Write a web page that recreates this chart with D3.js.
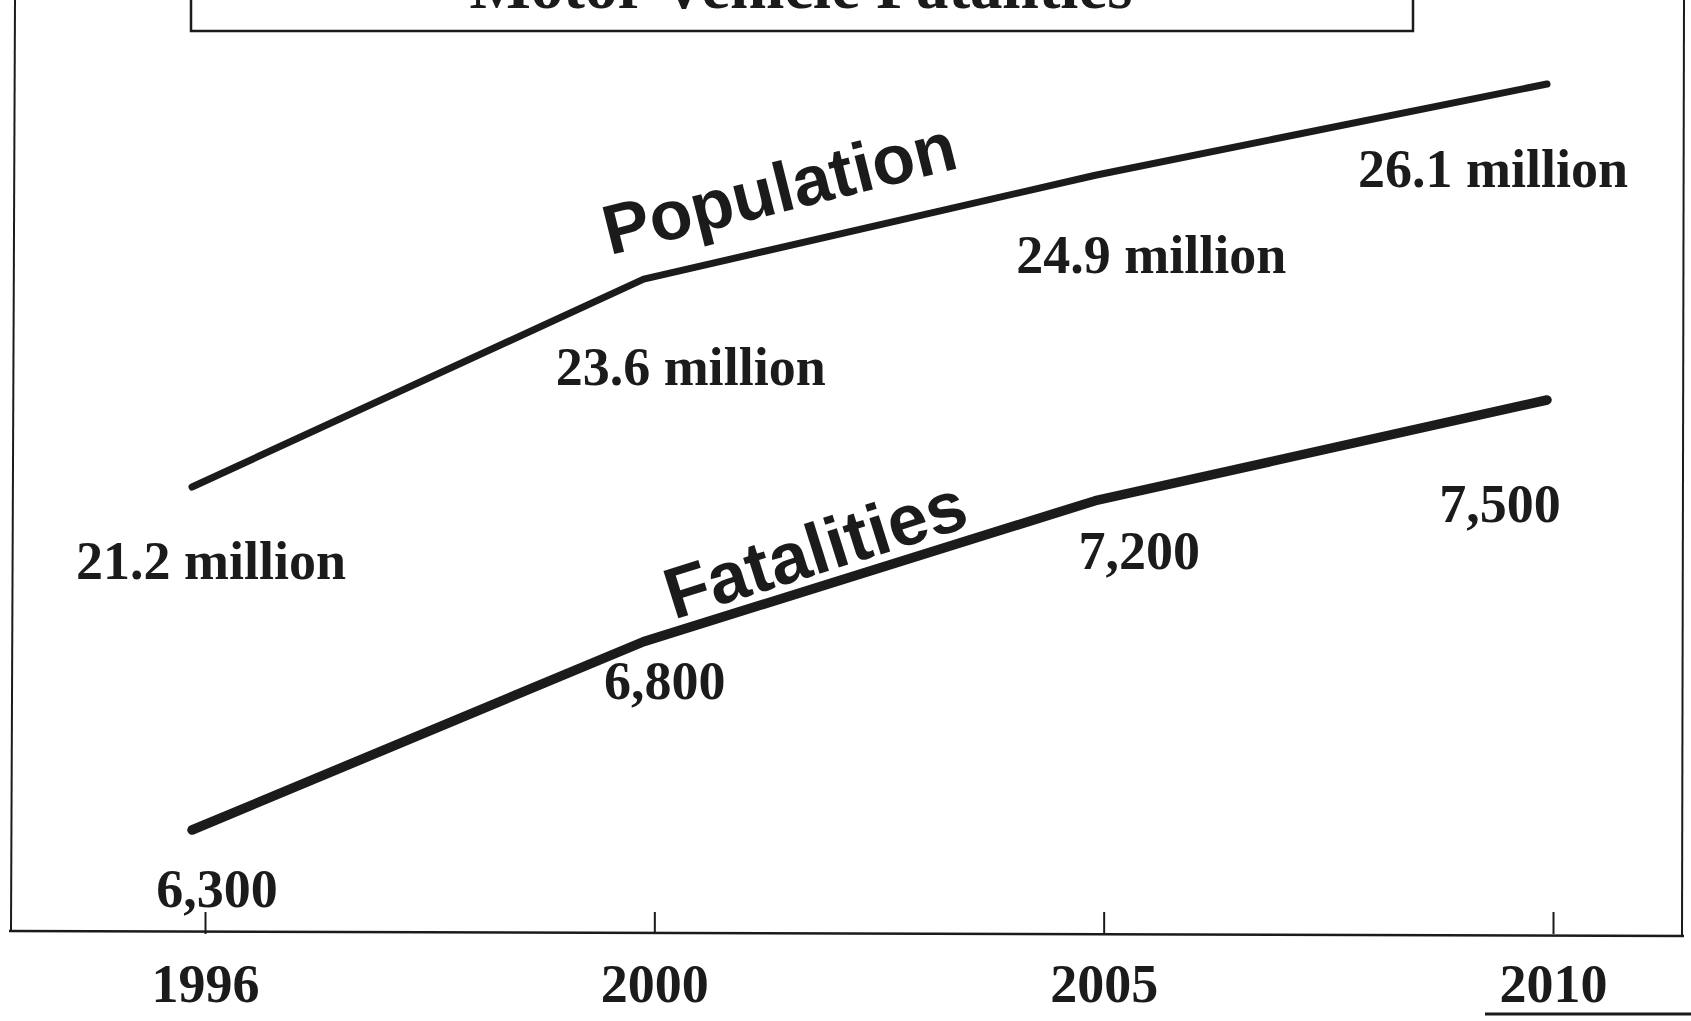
<!DOCTYPE html>
<html>
<head>
<meta charset="utf-8">
<script src="https://cdn.jsdelivr.net/npm/d3@7"></script>
<style>
  body { margin: 0; background: #fff; }
  svg { display: block; }
</style>
</head>
<body>
<div class="vis-area"></div>
<script>
var width = 1691;
var height = 1021;

// data
var years = [1996, 2000, 2005, 2010];
var population = [21.2, 23.6, 24.9, 26.1];   // millions
var fatalities = [6300, 6800, 7200, 7500];

// label nudges relative to each point (layout only)
var popLabelDx = [19, 47, 56, -54];
var popLabelDy = [92, 106, 98, 103];
var fatLabelDx = [25, 21, 44, -47];
var fatLabelDy = [77, 57, 68, 122];

var ink = '#1b1b1b';
var serif = '"Liberation Serif", "Times New Roman", serif';
var sans = '"Liberation Sans", Arial, sans-serif';

var svg = d3.select('.vis-area')
  .append('svg')
  .attr('width', width)
  .attr('height', height);

svg.append('rect').attr('width', width).attr('height', height).attr('fill', '#fff');

// scales
var xAxisScale = d3.scalePoint().domain(years).range([205, 1553]);
var xLine = d3.scalePoint().domain(years).range([192, 1547]);
var yPop = d3.scaleLog().domain([21.2, 26.1]).range([487, 84]);
var yFat = d3.scaleLog().domain([6300, 7500]).range([830, 400]);

// outer frame
svg.append('line').attr('x1', 15).attr('y1', 0).attr('x2', 11).attr('y2', 931)
  .attr('stroke', ink).attr('stroke-width', 2);
svg.append('line').attr('x1', 1684).attr('y1', 0).attr('x2', 1682).attr('y2', 936)
  .attr('stroke', ink).attr('stroke-width', 2);
svg.append('line').attr('x1', 9).attr('y1', 931).attr('x2', 1684).attr('y2', 936)
  .attr('stroke', ink).attr('stroke-width', 2.5);

// title box (cut off at top of page, as in the scan)
svg.append('rect')
  .attr('x', 191).attr('y', -20)
  .attr('width', 1222).attr('height', 51)
  .attr('fill', 'none').attr('stroke', ink).attr('stroke-width', 2.5);
svg.append('text')
  .attr('x', 801).attr('y', 8)
  .attr('text-anchor', 'middle')
  .attr('font-family', serif).attr('font-weight', 'bold')
  .attr('font-size', 65).attr('fill', ink)
  .text('Motor Vehicle Fatalities');

// x axis, ticks pointing up
var xAxis = d3.axisBottom(xAxisScale).tickSizeInner(-22).tickSizeOuter(0).tickPadding(30);
var axisG = svg.append('g')
  .attr('transform', 'translate(0,934)')
  .call(xAxis);
axisG.select('.domain').remove();
axisG.selectAll('.tick line').attr('stroke', ink).attr('stroke-width', 2);
axisG.selectAll('.tick text')
  .attr('font-family', serif).attr('font-weight', 'bold')
  .attr('font-size', 54).attr('fill', ink);

// underline under 2010
svg.append('line')
  .attr('x1', xAxisScale(2010) - 68).attr('x2', width)
  .attr('y1', 1014).attr('y2', 1014)
  .attr('stroke', ink).attr('stroke-width', 3);

// lines
var popLine = d3.line().x((d, i) => xLine(years[i])).y(d => yPop(d));
var fatLine = d3.line().x((d, i) => xLine(years[i])).y(d => yFat(d));

svg.append('path')
  .datum(population)
  .attr('d', popLine)
  .attr('fill', 'none').attr('stroke', ink)
  .attr('stroke-width', 7).attr('stroke-linecap', 'round').attr('stroke-linejoin', 'round');

svg.append('path')
  .datum(fatalities)
  .attr('d', fatLine)
  .attr('fill', 'none').attr('stroke', ink)
  .attr('stroke-width', 9.5).attr('stroke-linecap', 'round').attr('stroke-linejoin', 'round');

// value labels
svg.selectAll('.pop-label')
  .data(population)
  .enter()
  .append('text')
  .attr('class', 'pop-label')
  .attr('x', (d, i) => xLine(years[i]) + popLabelDx[i])
  .attr('y', (d, i) => yPop(d) + popLabelDy[i])
  .attr('text-anchor', 'middle')
  .attr('font-family', serif).attr('font-weight', 'bold')
  .attr('font-size', 54).attr('fill', ink)
  .text(d => d.toFixed(1) + ' million');

svg.selectAll('.fat-label')
  .data(fatalities)
  .enter()
  .append('text')
  .attr('class', 'fat-label')
  .attr('x', (d, i) => xLine(years[i]) + fatLabelDx[i])
  .attr('y', (d, i) => yFat(d) + fatLabelDy[i])
  .attr('text-anchor', 'middle')
  .attr('font-family', serif).attr('font-weight', 'bold')
  .attr('font-size', 54).attr('fill', ink)
  .text(d => d3.format(',')(d));

// series names written along the lines
var px = xLine(2000) - 34, py = yPop(23.6) - 24;
svg.append('text')
  .attr('transform', `translate(${px},${py}) rotate(-14)`)
  .attr('font-family', sans).attr('font-weight', 'bold')
  .attr('font-size', 70).attr('fill', ink)
  .text('Population');

var fx = xLine(2000) + 30, fy = yFat(6800) - 22;
svg.append('text')
  .attr('transform', `translate(${fx},${fy}) rotate(-17.5)`)
  .attr('font-family', sans).attr('font-weight', 'bold')
  .attr('font-size', 72).attr('fill', ink)
  .text('Fatalities');
</script>
</body>
</html>
